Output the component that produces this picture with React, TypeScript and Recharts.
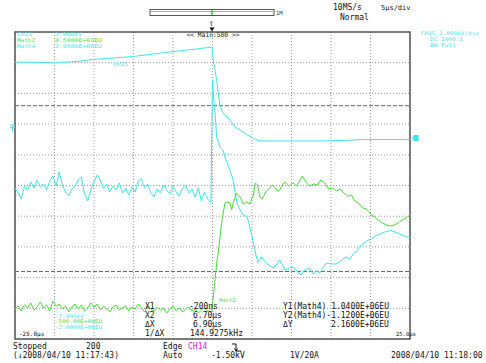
import { LineChart, Line, XAxis, YAxis, CartesianGrid, ReferenceLine, ReferenceArea } from 'recharts'

// time base: 5 μs/div, trigger at 0
const timeTicks = [-25, -20, -15, -10, -5, 0, 5, 10, 15, 20, 25]
// Math4 in 1E+06 EU (0.4E+06 EU/div)
const math4Ticks = [-2, -1.6, -1.2, -0.8, -0.4, 0, 0.4, 0.8, 1.2, 1.6, 2]

// noisy pre-trigger records are sampled every 0.4 μs from -25 μs
const preStart = -25
const sampleStep = 0.4

// CH15, kV
const ch15Time = [-25, -21.8, -19.9, -19.0, -16.8, -15, -10.1, -5.0, -1.6, -0.06, 0.1, 0.32, 0.53, 0.73, 0.95, 1.33, 2.2, 2.85, 3.5, 3.86, 4.5, 5.1, 5.76, 6.4, 10.2, 14.0, 17.8, 19.0, 24.1, 25]
const ch15KV = [2.02, 2.01, 1.99, 2.01, 2.05, 2.11, 2.2, 2.36, 2.46, 2.51, 2.09, 1.76, 1.44, 1.01, 0.59, 0.36, 0.13, -0.09, -0.19, -0.26, -0.36, -0.45, -0.53, -0.55, -0.55, -0.55, -0.52, -0.5, -0.5, -0.5]

// Math4, 1E+06 EU
const math4Pre = [
  -0.033, -0.098, -0.176, -0.006, -0.059, 0.046, -0.033, 0.072, -0.019, 0.02,
  -0.059, 0.059, 0.124, -0.006, 0.176, 0.007, -0.085, -0.137, -0.046, -0.006,
  0.072, 0.111, -0.111, -0.202, -0.059, 0.046, 0.137, 0.072, -0.033, 0.02,
  -0.085, -0.006, -0.059, 0.033, -0.098, -0.033, -0.124, -0.019, -0.085, 0.059,
  0.085, -0.033, 0.02, -0.098, -0.15, -0.046, -0.098, 0.007, -0.059, -0.111,
  -0.006, -0.085, -0.137, -0.033, 0.007, -0.098, -0.046, -0.15, -0.033, -0.202,
  -0.085, -0.176,
]
const math4PostTime = [
  -0.2, 0.0, 0.1, 0.32, 0.53, 0.95, 1.33, 1.7, 2.2, 2.6,
  3.1, 3.5, 3.86, 4.4, 4.75, 5.1, 5.5, 5.76, 6.14, 6.5,
  6.8, 7.3, 7.66, 8.16, 8.5, 8.9, 9.2, 9.7, 10.2, 10.7,
  11.2, 11.7, 12.3, 12.7, 13.2, 13.6, 14.1, 14.5, 15.0, 15.6,
  16.1, 16.5, 16.9, 17.4, 17.8, 18.2, 18.7, 19.0, 19.5, 20.1,
  20.6, 21.2, 21.8, 22.5, 23.1, 23.7, 24.3, 25.0,
]
const math4Post = [
  -0.228, 1.375, 1.205, 0.945, 0.632, 0.502, 0.463, 0.332, 0.202, 0.072,
  -0.228, -0.319, -0.384, -0.41, -0.554, -0.71, -0.905, -0.997, -0.931, -0.971,
  -1.01, -1.049, -1.075, -1.023, -0.971, -1.049, -1.101, -1.075, -1.062, -1.114,
  -1.166, -1.101, -1.075, -1.153, -1.114, -1.14, -1.049, -1.01, -1.023, -1.023,
  -0.997, -0.958, -0.931, -0.958, -0.892, -0.866, -0.788, -0.762, -0.723, -0.697,
  -0.658, -0.632, -0.606, -0.586, -0.606, -0.632, -0.658, -0.684,
]

// Math2, EU
const math2Pre = [
  -12, 37, -44, 54, 5, 86, -28, 21, 103, 5,
  54, -44, 119, 37, 70, -12, 37, -60, 21, 70,
  -12, 54, -44, 5, 86, 21, 70, -28, 37, -12,
  -60, 21, 54, -28, 5, 37, -44, 21, -12, 70,
  5, -60, 37, -12, -44, 21, -28, 5, -77, -12,
  37, -44, 5, -60, -12, 21, -44, -12, -77, -28,
  5, -44,
]
const math2PostTime = [
  -0.1, 0.1, 0.32, 0.53, 0.73, 0.95, 1.16, 1.36, 1.58, 1.8,
  2.22, 2.43, 2.64, 3.06, 3.48, 3.9, 4.3, 4.75, 5.17, 5.4,
  5.7, 6.0, 6.3, 6.75, 7.2, 7.66, 8.2, 8.5, 8.9, 9.2,
  9.7, 10.2, 10.7, 11.1, 11.4, 11.9, 12.3, 12.8, 13.3, 13.7,
  14.2, 14.7, 15.2, 15.7, 16.2, 16.6, 17.1, 17.6, 18.0, 18.5,
  19.0, 19.5, 20.0, 20.5, 21.0, 21.5, 22.0, 22.5, 23.0, 23.5,
  24.0, 24.5, 25.0,
]
const math2Post = [
  -60, 184, 461, 738, 901, 1161, 1389, 1552, 1715, 1731,
  1715, 1601, 1731, 1878, 1813, 1699, 1731, 1699, 1845, 2041,
  2008, 1813, 1780, 1894, 1959, 2008, 1910, 1927, 2024, 2057,
  1992, 2041, 1992, 2090, 2155, 2041, 1992, 2024, 2008, 2090,
  2041, 1943, 1959, 1910, 1943, 1878, 1829, 1845, 1748, 1715,
  1634, 1617, 1536, 1487, 1438, 1389, 1357, 1340, 1357, 1389,
  1438, 1471, 1520,
]

// cursors
const cursorX1 = -0.2
const cursorX2 = 6.7
const cursorY1 = 1.04
const cursorY2 = -1.12

const CYAN = '#3ee4ee'
const GREEN = '#46dc3a'
const mono = "'DejaVu Sans Mono', 'Liberation Mono', monospace"

const pairs = (t: number[], v: number[]) => t.map((x, i) => ({ t: x, v: v[i] }))
const sampled = (v: number[]) => v.map((y, i) => ({ t: +(preStart + i * sampleStep).toFixed(2), v: y }))

const ch15Data = pairs(ch15Time, ch15KV)
const math4Data = [...sampled(math4Pre), ...pairs(math4PostTime, math4Post)]
const math2Data = [...sampled(math2Pre), ...pairs(math2PostTime, math2Post)]

// small stretched label, the scope's narrow bitmap font
const Small = ({ x, y, w, fill, children }: any) => (
  <text x={x} y={y} fontSize={5} fill={fill} textLength={w} lengthAdjust="spacingAndGlyphs">{children}</text>
)

const Overlay = () => (
  <svg width={486} height={363} fontFamily={mono}
    style={{ position: 'absolute', left: 0, top: 0, pointerEvents: 'none' }}>
    {/* record position bar */}
    <rect x={150} y={9.5} width={124} height={6} fill="#fff" stroke="#555" />
    <line x1={151} y1={11.5} x2={273} y2={11.5} stroke="#aaa" />
    <line x1={212} y1={10} x2={212} y2={15} stroke="#3c3" strokeWidth={1.5} />
    <text x={276} y={14.5} fontSize={5.5} fill="#333">1M</text>

    <text x={333} y={10} fontSize={8} fill="#111">10MS/s</text>
    <text x={381} y={10} fontSize={7} fill="#111">5μs/div</text>
    <text x={340} y={20} fontSize={8} fill="#111">Normal</text>

    {/* trigger marker */}
    <text x={209.5} y={26} fontSize={6} fill="#111">T</text>
    <polygon points="209.5,27.5 214.5,27.5 212,31.5" fill="#111" />
    <text x={213} y={37} fontSize={6.3} fill="#111" textAnchor="middle">{'<< Main:500 >>'}</text>

    {/* channel labels */}
    <Small x={17} y={36} w={15} fill={CYAN}>CH15</Small>
    <Small x={55} y={36} w={27} fill={CYAN}>3.000kV</Small>
    <Small x={17} y={42} w={18} fill={GREEN}>Math2</Small>
    <Small x={55} y={42} w={47} fill={GREEN}>4.5000E+03EU</Small>
    <Small x={17} y={48} w={18} fill={CYAN}>Math4</Small>
    <Small x={55} y={48} w={47} fill={CYAN}>2.0000E+06EU</Small>

    <Small x={421} y={35} w={58} fill={CYAN}>CH15 1.000kV/div</Small>
    <Small x={430} y={41} w={33} fill={CYAN}>DC 1000:1</Small>
    <Small x={430} y={47} w={26} fill={CYAN}>BW Full</Small>
    <Small x={113} y={66} w={15} fill={CYAN}>CH15</Small>

    <Small x={55} y={317.5} w={29} fill={CYAN}>-7.000kV</Small>
    <Small x={55} y={323} w={47} fill={GREEN}>-500.00E+00EU</Small>
    <Small x={55} y={328.5} w={47} fill={CYAN}>-2.0000E+06EU</Small>
    <Small x={219} y={302} w={17} fill={GREEN}>Math2</Small>

    {/* level markers */}
    <path d="M10 125 H15 M10 127.5 H15 M12.5 125 V131" stroke={CYAN} strokeWidth={1} fill="none" />
    <polygon points="412,138 414,135 418.5,135 418.5,141 414,141" fill={CYAN} />

    <text x={19} y={336} fontSize={6} fill="#111">-25.0μs</text>
    <text x={396} y={336} fontSize={5.5} fill="#111">25.0μs</text>

    {/* cursor readouts */}
    <g fontSize={8} fill="#111">
      <text x={145} y={309}>X1</text>
      <text x={189} y={309}>-200ns</text>
      <text x={145} y={318}>X2</text>
      <text x={193} y={318}>6.70μs</text>
      <text x={145} y={327}>ΔX</text>
      <text x={193} y={327}>6.90μs</text>
      <text x={145} y={336}>1/ΔX</text>
      <text x={190} y={336}>144.9275kHz</text>
      <text x={283} y={309}>Y1(Math4) 1.0400E+06EU</text>
      <text x={283} y={318}>Y2(Math4)-1.1200E+06EU</text>
      <text x={283} y={327}>ΔY</text>
      <text x={331} y={327}>2.1600E+06EU</text>
    </g>

    {/* status line */}
    <g fontSize={8} fill="#111">
      <text x={13} y={349}>Stopped</text>
      <text x={86} y={349}>200</text>
      <text x={163} y={349}>Edge</text>
      <text x={188} y={349} fill="#e020e0">CH14</text>
      <text x={13} y={358}>(↓2008/04/10 11:17:43)</text>
      <text x={163} y={358}>Auto</text>
      <text x={211} y={358}>-1.50kV</text>
      <text x={290} y={358}>1V/20A</text>
      <text x={391} y={358}>2008/04/10 11:18:00</text>
    </g>
    <path d="M232 344 H236 V351 H241 M234.5 348.5 L236 351 L237.5 348.5" stroke="#111" fill="none" />
  </svg>
)

export default function App() {
  return (
    <div style={{ position: 'absolute', left: 0, top: 0, width: 486, height: 363, background: '#fff' }}>
      <LineChart width={486} height={363} margin={{ top: 32, right: 76, bottom: 24, left: 15 }}>
        <XAxis dataKey="t" type="number" domain={[-25, 25]} ticks={timeTicks} hide allowDataOverflow />
        <YAxis yAxisId="ch15" type="number" domain={[-7, 3]} hide allowDataOverflow />
        <YAxis yAxisId="math2" type="number" domain={[-500, 4500]} hide allowDataOverflow />
        <YAxis yAxisId="math4" type="number" domain={[-2, 2]} ticks={math4Ticks} hide allowDataOverflow />
        <CartesianGrid yAxisId="math4" stroke="#9a9a9a" strokeDasharray="1 2" />
        <ReferenceLine x={cursorX1} stroke="#666" strokeWidth={1.3} strokeDasharray="4 2" />
        <ReferenceLine x={cursorX2} stroke="#666" strokeWidth={1.3} strokeDasharray="4 2" />
        <ReferenceLine yAxisId="math4" y={cursorY1} stroke="#666" strokeDasharray="4 2" />
        <ReferenceLine yAxisId="math4" y={cursorY2} stroke="#666" strokeDasharray="4 2" />
        <Line data={ch15Data} dataKey="v" yAxisId="ch15" type="linear" stroke={CYAN} strokeWidth={1} dot={false} isAnimationActive={false} />
        <Line data={math4Data} dataKey="v" yAxisId="math4" type="linear" stroke={CYAN} strokeWidth={1} dot={false} isAnimationActive={false} />
        <Line data={math2Data} dataKey="v" yAxisId="math2" type="linear" stroke={GREEN} strokeWidth={1} dot={false} isAnimationActive={false} />
        <ReferenceArea yAxisId="math4" x1={-25} x2={25} y1={-2} y2={2} fill="none" stroke="#555" strokeWidth={1.5} />
      </LineChart>
      <Overlay />
    </div>
  )
}
